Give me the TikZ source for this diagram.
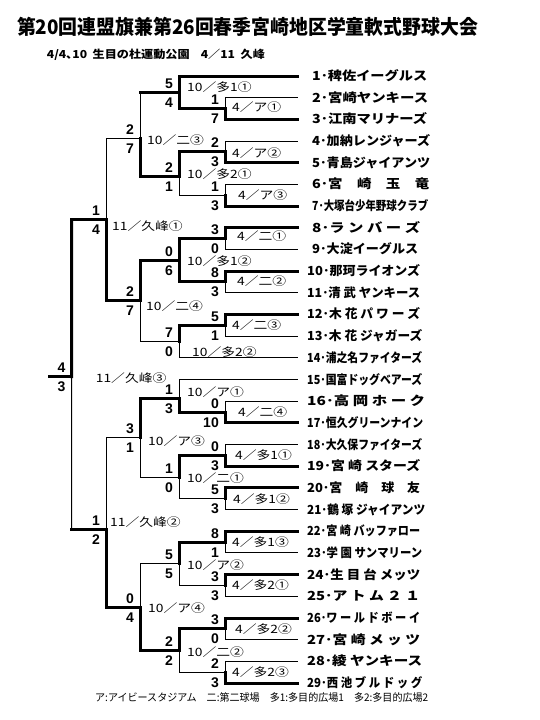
\documentclass[tikz,border=0pt]{standalone}
\usepackage{fontspec}
\usepackage{graphicx}
\usetikzlibrary{calc}
\setmainfont{Noto Sans CJK JP}
\newfontfamily\jp{Noto Sans CJK JP}
\newfontfamily\scf{Liberation Sans}

\tikzset{
 segl/.style={line width=1pt, line cap=rect},
 segw/.style={line width=3pt, line cap=rect},
 sc/.style={font=\scf\bfseries\fontsize{14}{14}\selectfont, inner sep=0pt},
 lb/.style={font=\jp\fontsize{11.5}{11.5}\selectfont, inner sep=0pt},
 tm/.style={font=\jp\bfseries\fontsize{12.5}{12.5}\selectfont, inner sep=0pt},
}

\gdef\js{0}
% #1 id, #2 column, #3 top entrant, #4 bottom entrant, #5 code (top-h top-v bottom-h bottom-v; w thick, l thin),
% #6 top score, #7 bottom score, #8 label, #9 label offset
\newcommand\Match[9]{%
  \coordinate (#1-t) at (#3 -| #2);
  \coordinate (#1-b) at (#4 -| #2);
  \coordinate (#1) at ($(#1-t)!0.5!(#1-b)+(0,\js)$);
  \gdef\js{0}%
  \Segs{#1}{#3}{#4}#5%
  \node[sc, anchor=base east] (#1-s1) at ($(#1)+(-6,-4)$) {#6};
  \node[sc, anchor=base east] (#1-s2) at ($(#1)+(-6,15)$) {#7};
  \node[lb, anchor=west] (#1-l) at ($(#1)+#9$) {\scalebox{1.2}[1]{#8}};
}
\def\Segs#1#2#3#4#5#6#7{%
  \draw[seg#4] (#2) -- (#1-t);
  \draw[seg#5] (#1-t) -- (#1);
  \draw[seg#6] (#3) -- (#1-b);
  \draw[seg#7] (#1-b) -- (#1);
}
% #1 number, #2 y, #3 start x, #4 width, #5 name
\newcommand\Team[5]{%
  \coordinate (t#1) at (297,#2);
  \node[tm, anchor=base west] (n#1) at (#3,#2+4.5) {\resizebox{#4pt}{\height}{#1･#5}};
}

\begin{document}
\begin{tikzpicture}[x=1pt,y=-1pt]
\useasboundingbox (0,0) rectangle (540,720);

\node[inner sep=0pt] (title) at (247.5,27)
  {\resizebox{461pt}{\height}{\jp\bfseries\fontsize{20}{20}\selectfont 第20回連盟旗兼第26回春季宮崎地区学童軟式野球大会}};
\node[inner sep=0pt, anchor=west] (sub) at (46.7,55)
  {\resizebox{218pt}{\height}{\jp\bfseries\fontsize{11}{11}\selectfont 4/4､10\ \ 生目の杜運動公園\ \ \ \ 4／11\ \ 久峰}};
\node[inner sep=0pt, anchor=west] (legend) at (95,697)
  {\resizebox{333pt}{\height}{\jp\fontsize{10.5}{10.5}\selectfont ア:アイビースタジアム　二:第二球場　多1:多目的広場1　多2:多目的広場2}};

\coordinate (c1) at (225,0);
\coordinate (c2) at (179,0);
\coordinate (c3) at (140,0);
\coordinate (c4) at (106,0);
\coordinate (c5) at (71.7,0);
\coordinate (fend) at (49,0);

\Team{1}{76}{312}{115}{稗佐イーグルス}
\Team{2}{97.68}{312}{116}{宮崎ヤンキース}
\Team{3}{119.36}{312}{115}{江南マリナーズ}
\Team{4}{141.04}{312}{118}{加納レンジャーズ}
\Team{5}{162.72}{312}{118}{青島ジャイアンツ}
\Team{6}{184.40}{312}{117}{宮　崎　玉　竜}
\Team{7}{206.08}{312}{116}{大塚台少年野球クラブ}
\Team{8}{227.76}{312}{108}{ラ ン バ ー ズ}
\Team{9}{249.44}{312}{106}{大淀イーグルス}
\Team{10}{271.12}{307}{113}{那珂ライオンズ}
\Team{11}{292.80}{307}{113}{清 武 ヤンキース}
\Team{12}{314.48}{307}{113}{木 花 パ ワ ー ズ}
\Team{13}{336.16}{307}{115}{木 花 ジャガーズ}
\Team{14}{357.84}{307}{115}{浦之名ファイターズ}
\Team{15}{379.52}{307}{115}{国富ドッグベアーズ}
\Team{16}{401.20}{307}{118}{高 岡 ホ ー ク}
\Team{17}{422.88}{307}{116}{恒久グリーンナイン}
\Team{18}{444.56}{307}{115}{大久保ファイターズ}
\Team{19}{466.24}{307}{113}{宮 崎 スターズ}
\Team{20}{487.92}{307}{113}{宮　崎　球　友}
\Team{21}{509.60}{307}{118}{鶴 塚 ジャイアンツ}
\Team{22}{531.28}{307}{113}{宮 崎 バッファロー}
\Team{23}{552.96}{307}{115}{学 園 サンマリーン}
\Team{24}{574.64}{307}{113}{生 目 台 メッツ}
\Team{25}{596.32}{307}{113}{ア ト ム ２ １}
\Team{26}{618.00}{307}{113}{ワ ー ル ド ボ ー イ}
\Team{27}{639.68}{307}{113}{宮 崎 メ ッ ツ}
\Team{28}{661.36}{307}{115}{綾 ヤンキース}
\Team{29}{683.04}{307}{115}{西 池 ブ ル ド ッ グ}

% first round
\Match{m23}{c1}{t2}{t3}{llww}{1}{7}{4／ア①}{(7,-1)}
\Match{m45}{c1}{t4}{t5}{llww}{2}{3}{4／ア②}{(7,1)}
\Match{m67}{c1}{t6}{t7}{llww}{1}{3}{4／ア③}{(13,0)}
\Match{m89}{c1}{t8}{t9}{wwll}{3}{0}{4／二①}{(12,-2)}
\Match{m1011}{c1}{t10}{t11}{wwll}{8}{3}{4／二②}{(12,-1)}
\Match{m1213}{c1}{t12}{t13}{wwll}{5}{1}{4／二③}{(7,0)}
\Match{m1617}{c1}{t16}{t17}{llww}{0}{10}{4／二④}{(13,0)}
\Match{m1819}{c1}{t18}{t19}{llww}{0}{3}{4／多1①}{(10,0)}
\Match{m2021}{c1}{t20}{t21}{wwll}{5}{3}{4／多1②}{(8,0)}
\Match{m2223}{c1}{t22}{t23}{wwll}{8}{1}{4／多1③}{(7,0)}
\Match{m2425}{c1}{t24}{t25}{wwll}{3}{3}{4／多2①}{(7,0)}
\Match{m2627}{c1}{t26}{t27}{wwll}{3}{0}{4／多2②}{(10,0)}
\Match{m2829}{c1}{t28}{t29}{llww}{2}{3}{4／多2③}{(7,0)}
% second round
\Match{A1}{c2}{t1}{m23}{wwww}{5}{4}{10／多1①}{(8,-5)}
\gdef\js{3}
\Match{A2}{c2}{m45}{m67}{wwll}{2}{1}{10／多2①}{(8,-2)}
\Match{B1}{c2}{m89}{m1011}{wwww}{0}{6}{10／多1②}{(8,1)}
\Match{B2}{c2}{m1213}{t14}{wwll}{7}{0}{10／多2②}{(13,11)}
\gdef\js{3}
\Match{C1}{c2}{t15}{m1617}{llww}{1}{3}{10／ア①}{(8,-6.5)}
\Match{C2}{c2}{m1819}{m2021}{wwll}{1}{0}{10／二①}{(8,1.5)}
\Match{D1}{c2}{m2223}{m2425}{wwll}{5}{5}{10／ア②}{(8,1)}
\Match{D2}{c2}{m2627}{m2829}{wwll}{2}{2}{10／二②}{(8,1.5)}
% third round
\gdef\js{4.5}
\Match{A}{c3}{A1}{A2}{wlww}{2}{7}{10／二③}{(7,1)}
\Match{B}{c3}{B1}{B2}{wwll}{2}{7}{10／二④}{(6,5)}
\Match{C}{c3}{C1}{C2}{wwll}{3}{1}{10／ア③}{(8,3)}
\Match{D}{c3}{D1}{D2}{llww}{0}{4}{10／ア④}{(8,1)}
% semifinals
\Match{S1}{c4}{A}{B}{llww}{1}{4}{11／久峰①}{(6,6)}
\gdef\js{7}
\Match{S2}{c4}{C}{D}{llww}{1}{2}{11／久峰②}{(4,-7)}
% final
\gdef\js{2}
\Match{F}{c5}{S1}{S2}{wwwl}{4}{3}{11／久峰③}{(24,1)}
\draw[segw] (F) -- (F -| fend);
\end{tikzpicture}
\end{document}
